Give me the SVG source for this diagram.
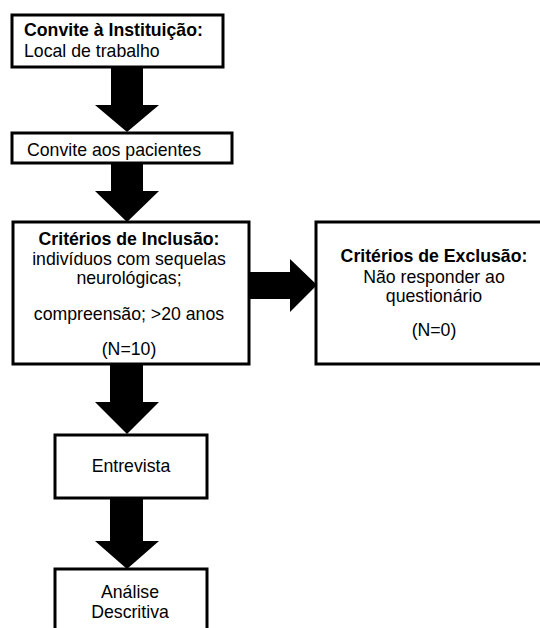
<svg xmlns="http://www.w3.org/2000/svg" width="540" height="628" viewBox="0 0 540 628">
<style>
.box{fill:#fff;stroke:#000;stroke-width:3}
.t{font-family:"Liberation Sans",Arial,sans-serif;font-size:17.7px;fill:#000}
.b{font-weight:bold}
.c{text-anchor:middle}
.arr{fill:#000;stroke:none}
</style>
<rect width="540" height="628" fill="#fff"/>
<g id="connectors">
<polygon class="arr" points="111,67 143,67 143,105 159,105 127,132 95,105 111,105"/>
<polygon class="arr" points="111,163 143,163 143,191 159,191 127,222 95,191 111,191"/>
<polygon class="arr" points="249,272 290,272 290,259 317,285 290,312 290,299 249,299"/>
<polygon class="arr" points="110,364 143,364 143,402 159,402 127,434 95,402 110,402"/>
<polygon class="arr" points="110,498 143,498 143,541 159,541 127,569 95,541 110,541"/>
</g>
<g id="n1">
<rect class="box" x="12" y="15" width="211" height="52"/>
<text class="t b" x="24" y="36">Convite à Instituição:</text>
<text class="t" x="24" y="57">Local de trabalho</text>
</g>
<g id="n2">
<rect class="box" x="12" y="133" width="220" height="30"/>
<text class="t" x="27" y="156">Convite aos pacientes</text>
</g>
<g id="n3">
<rect class="box" x="13" y="222" width="236" height="142"/>
<text class="t b c" x="129" y="245">Critérios de Inclusão:</text>
<text class="t c" x="129" y="265">indivíduos com sequelas</text>
<text class="t c" x="129" y="284">neurológicas;</text>
<text class="t c" x="129" y="320">compreensão; &gt;20 anos</text>
<text class="t c" x="129" y="355">(N=10)</text>
</g>
<g id="n4">
<rect class="box" x="316" y="222" width="240" height="142"/>
<text class="t b c" x="434" y="262">Critérios de Exclusão:</text>
<text class="t c" x="434" y="283">Não responder ao</text>
<text class="t c" x="434" y="302">questionário</text>
<text class="t c" x="434" y="336">(N=0)</text>
</g>
<g id="n5">
<rect class="box" x="55" y="435" width="152" height="63"/>
<text class="t c" x="131" y="472">Entrevista</text>
</g>
<g id="n6">
<rect class="box" x="55" y="569" width="152" height="80"/>
<text class="t c" x="130" y="598">Análise</text>
<text class="t c" x="130" y="618">Descritiva</text>
</g>
</svg>
